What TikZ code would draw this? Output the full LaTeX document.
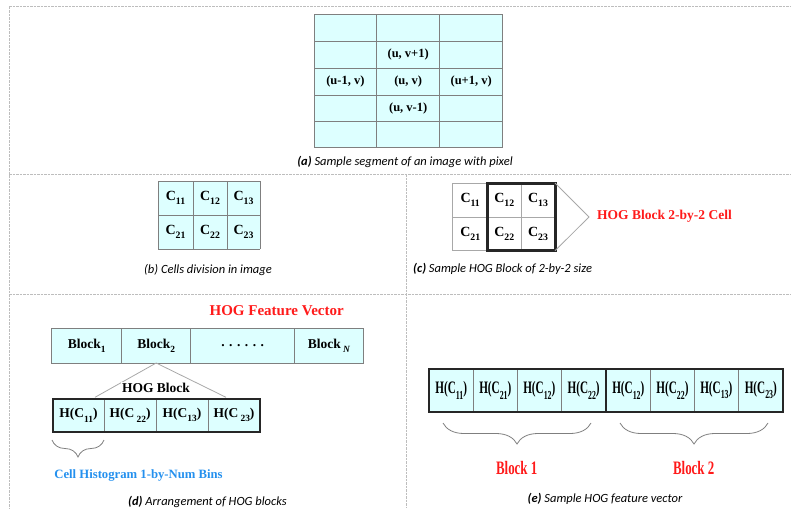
\documentclass[tikz,border=0pt]{standalone}
\usepackage{fontspec}
\setmainfont{Liberation Serif}
\newfontfamily\capfont{Carlito}
\usetikzlibrary{decorations.pathreplacing}
\definecolor{cellfill}{HTML}{DDFFFF}
\definecolor{framegray}{HTML}{BDBDBD}
\definecolor{linegray}{HTML}{7F7F7F}
\definecolor{lightline}{HTML}{A8A8A8}
\definecolor{hogred}{HTML}{FF1A1A}
\definecolor{hogblue}{HTML}{2490EE}
\newcommand\lsub[1]{\raisebox{-0.3em}{\scalebox{0.7}{#1}}}
\tikzset{
  frame/.style={draw=framegray, line width=1pt, dash pattern=on 2.5pt off 1pt},
  gline/.style={draw=linegray, line width=0.8pt},
  lline/.style={draw=lightline, line width=0.8pt},
  thickbox/.style={draw=black!85, line width=3pt},
  txt/.style={font=\fontsize{12.5}{14}\selectfont\bfseries, inner sep=0pt},
  ctxt/.style={font=\fontsize{14}{16}\selectfont\bfseries, inner sep=0pt},
  htxt/.style={font=\fontsize{13.5}{15}\selectfont\bfseries, inner sep=0pt},
  etxt/.style={font=\fontsize{17.5}{19}\selectfont\bfseries, inner sep=0pt, xscale=0.64},
  redlbl/.style={font=\fontsize{13.5}{15}\selectfont\bfseries, text=hogred, inner sep=0pt},
  redtitle/.style={font=\fontsize{15}{17}\selectfont\bfseries, text=hogred, inner sep=0pt},
  redbig/.style={font=\fontsize{19}{21}\selectfont\bfseries, text=hogred, inner sep=0pt, xscale=0.68},
  bluelbl/.style={font=\fontsize{12.7}{14}\selectfont\bfseries, text=hogblue, inner sep=0pt},
  caption/.style={font=\capfont\fontsize{12.5}{14}\selectfont\itshape, inner sep=0pt},
  brc/.style={draw=linegray, line width=0.8pt, decorate, decoration={brace, amplitude=#1}},
}
\begin{document}
\begin{tikzpicture}[x=1pt,y=-1pt]
\useasboundingbox (0,0) rectangle (791,508);
% frames
\draw[frame] (9,7) -- (791,7);
\draw[frame] (9,7) -- (9,508);
\draw[frame] (9,174) -- (791,174);
\draw[frame] (9,294) -- (791,294);
\draw[frame] (406,174) -- (406,508);

% ---------- panel (a)
\fill[cellfill] (314,14.7) rectangle (502.7,147.7);
\foreach \x in {314,376.7,439.7,502.7} \draw[gline] (\x,14.7) -- (\x,147.7);
\foreach \y in {14.7,41.3,68.3,95,121.7,147.7} \draw[gline] (314,\y) -- (502.7,\y);
\node[txt] (a1) at (408.2,54.8) {(u, v+1)};
\node[txt] (a2) at (345.4,81.7) {(u-1, v)};
\node[txt] (a3) at (408.2,81.7) {(u, v)};
\node[txt] (a4) at (471.2,81.7) {(u+1, v)};
\node[txt] (a5) at (408.2,108.3) {(u, v-1)};
\node[caption] (capa) at (405,162) {\textbf{(a)} Sample segment of an image with pixel};

% ---------- panel (b)
\fill[cellfill] (158,181) rectangle (260,249);
\foreach \x in {158,193,227,260} \draw[gline] (\x,181) -- (\x,249);
\foreach \y in {181,215,249} \draw[gline] (158,\y) -- (260,\y);
\node[ctxt] (b11) at (175.5,198) {C\lsub{11}};
\node[ctxt] (b12) at (210,198) {C\lsub{12}};
\node[ctxt] (b13) at (243.5,198) {C\lsub{13}};
\node[ctxt] (b21) at (175.5,232) {C\lsub{21}};
\node[ctxt] (b22) at (210,232) {C\lsub{22}};
\node[ctxt] (b23) at (243.5,232) {C\lsub{23}};
\node[caption] (capb) at (208,270) {(b) Cells division in image};

% ---------- panel (c)
\foreach \x in {452.7,487.7,521,555} \draw[lline] (\x,183) -- (\x,250.7);
\foreach \y in {183,217,250.7} \draw[lline] (452.7,\y) -- (555,\y);
\draw[thickbox] (487.7,183) rectangle (555,250.7);
\coordinate (ctop) at (555,183);
\coordinate (cbot) at (555,250.7);
\coordinate (ctip) at (589,217);
\draw[lline] (ctop) -- (ctip) -- (cbot);
\node[ctxt] (c11) at (470.2,200) {C\lsub{11}};
\node[ctxt] (c12) at (504.3,200) {C\lsub{12}};
\node[ctxt] (c13) at (538,200) {C\lsub{13}};
\node[ctxt] (c21) at (470.2,234) {C\lsub{21}};
\node[ctxt] (c22) at (504.3,234) {C\lsub{22}};
\node[ctxt] (c23) at (538,234) {C\lsub{23}};
\node[redlbl, anchor=west] (clbl) at (597,216) {HOG Block 2-by-2 Cell};
\node[caption, anchor=west] (capc) at (413,269) {\textbf{(c)} Sample HOG Block of 2-by-2 size};

% ---------- panel (d)
\node[redtitle] (dtitle) at (276.7,310.7) {HOG Feature Vector};
\fill[cellfill] (51.7,328.3) rectangle (363.3,363);
\draw[gline] (51.7,328.3) rectangle (363.3,363);
\foreach \x in {121.7,190.7,294.7} \draw[gline] (\x,328.3) -- (\x,363);
\node[htxt] (blk1) at (86.7,345.7) {Block\lsub{1}};
\node[htxt] (blk2) at (156.2,345.7) {Block\lsub{2}};
\node[htxt] (blkd) at (242.7,345.7) {. . . . . .};
\node[htxt] (blkn) at (329,345.7) {Block\,\lsub{\itshape N}};
\coordinate (dapex) at (156.2,363);
\coordinate (dleft) at (95,397.3);
\coordinate (dright) at (226,397.3);
\draw[lline] (dleft) -- (dapex) -- (dright);
\node[htxt, fill=white, inner sep=1pt] (hogblk) at (156,388) {HOG Block};
\fill[cellfill] (52.7,399) rectangle (260,431.7);
\foreach \x in {104.3,156,208} \draw[gline] (\x,399) -- (\x,431.7);
\draw[thickbox, line width=1.8pt] (52.7,399) rectangle (260,431.7);
\node[htxt] (h1) at (78.5,415.3) {H(C\lsub{11})};
\node[htxt] (h2) at (130.2,415.3) {H(C\,\lsub{22})};
\node[htxt] (h3) at (182,415.3) {H(C\lsub{13})};
\node[htxt] (h4) at (234,415.3) {H(C\,\lsub{23})};
\coordinate (dbr1) at (104,440);
\coordinate (dbr2) at (52,440);
\draw[brc=17pt] (dbr1) -- (dbr2);
\node[bluelbl] (dblue) at (138.5,475) {Cell Histogram 1-by-Num Bins};
\node[caption] (capd) at (207.5,501.7) {\textbf{(d)} Arrangement of HOG blocks};

% ---------- panel (e)
\fill[cellfill] (429,369) rectangle (783.3,411.7);
\foreach \x in {473.3,517.3,561.3,650.7,694.3,738.3} \draw[gline] (\x,369) -- (\x,411.7);
\draw[thickbox, line width=1.8pt] (429,369) rectangle (783.3,411.7);
\draw[thickbox, line width=1.8pt] (606,369) -- (606,411.7);
\node[etxt] (e1) at (451.2,390.3) {H(C\lsub{11})};
\node[etxt] (e2) at (495.3,390.3) {H(C\lsub{21})};
\node[etxt] (e3) at (539.3,390.3) {H(C\lsub{12})};
\node[etxt] (e4) at (583.6,390.3) {H(C\lsub{22})};
\node[etxt] (e5) at (628.3,390.3) {H(C\lsub{12})};
\node[etxt] (e6) at (672.5,390.3) {H(C\lsub{22})};
\node[etxt] (e7) at (716.3,390.3) {H(C\lsub{13})};
\node[etxt] (e8) at (760.8,390.3) {H(C\lsub{23})};
\coordinate (ebr1a) at (591,423);
\coordinate (ebr1b) at (443,423);
\coordinate (ebr2a) at (768,423);
\coordinate (ebr2b) at (620,423);
\draw[brc=21pt] (ebr1a) -- (ebr1b);
\draw[brc=21pt] (ebr2a) -- (ebr2b);
\node[redbig] (eb1) at (516.7,468) {Block 1};
\node[redbig] (eb2) at (693.7,468) {Block 2};
\node[caption] (cape) at (605,499) {\textbf{(e)} Sample HOG feature vector};
\end{tikzpicture}
\end{document}
